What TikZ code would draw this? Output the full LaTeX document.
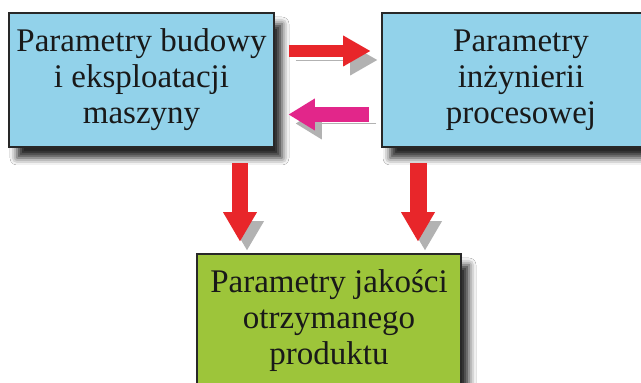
\documentclass[tikz,border=0pt]{standalone}
\usepackage{fontspec}
\setmainfont{Liberation Serif}
\usetikzlibrary{arrows.meta,shadows.blur,calc}
\definecolor{boxblue}{RGB}{146,210,234}
\definecolor{boxgreen}{RGB}{157,197,58}
\definecolor{arrred}{RGB}{232,38,42}
\definecolor{arrmag}{RGB}{226,38,138}
\definecolor{edgecol}{RGB}{40,40,40}
\definecolor{txtcol}{RGB}{25,25,25}
\tikzset{
  box/.style={draw=edgecol, line width=1.6pt, align=center, text=txtcol,
    font=\fontsize{33}{36}\selectfont, inner sep=0pt,
    blur shadow={shadow xshift=8pt, shadow yshift=-11pt, shadow blur radius=7pt, shadow opacity=85}},
  arrshadow/.style={preaction={draw=black!75, opacity=.4, transform canvas={shift={(7pt,-9pt)}}}},
  harr/.style={line width=12pt, -{Triangle[length=27pt,width=31pt,line width=0pt]}, arrshadow},
  varr/.style={draw=arrred, line width=16pt, -{Triangle[length=29pt,width=34pt,line width=0pt]}, arrshadow},
}
\begin{document}
\begin{tikzpicture}[x=1pt,y=1pt]
\useasboundingbox (0,0) rectangle (641,383);
\fill[white] (0,0) rectangle (641,383);
\node[box, fill=boxblue, minimum width=265pt, minimum height=134pt] (L) at (141.5,303) {Parametry budowy\\i eksploatacji\\maszyny};
\node[box, fill=boxblue, minimum width=278pt, minimum height=134pt] (R) at (521,303) {Parametry\\inżynierii\\procesowej};
\node[box, fill=boxgreen, minimum width=264pt, minimum height=134pt] (B) at (329,62) {Parametry jakości\\otrzymanego\\produktu};
\draw[harr, draw=arrred, shorten <=14pt, shorten >=11pt] ([yshift=29pt]L.east) -- ([yshift=29pt]L.east -| R.west);
\draw[harr, draw=arrmag, line width=15pt, -{Triangle[length=26pt,width=32pt,line width=0pt]}, shorten <=12pt, shorten >=14pt] ([yshift=-34.5pt]R.west) -- ([yshift=-34.5pt]R.west -| L.east);
\draw[varr, shorten <=15pt, shorten >=12pt] ([xshift=98.5pt]L.south) -- ([xshift=98.5pt]L.south |- B.north);
\draw[varr, line width=17pt, shorten <=15pt, shorten >=12pt] ([xshift=-103pt]R.south) -- ([xshift=-103pt]R.south |- B.north);
\end{tikzpicture}
\end{document}
